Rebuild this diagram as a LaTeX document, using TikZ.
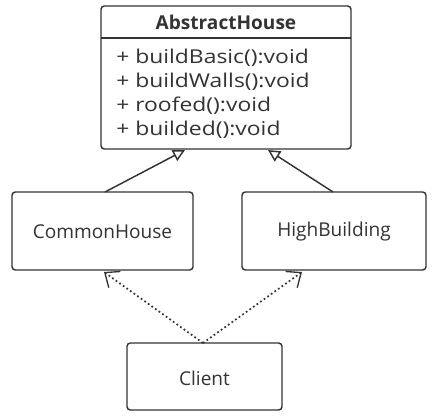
\documentclass[tikz,border=0pt]{standalone}
\usepackage{fontspec}
\setmainfont{Open Sans}
\newfontfamily\methfont[FakeStretch=1.2]{Open Sans}
\usetikzlibrary{arrows.meta}
\definecolor{ink}{HTML}{333333}
\begin{document}
\begin{tikzpicture}[x=0.75pt,y=-0.75pt,
  box/.style={draw=ink,line width=1.1pt,rounded corners=2.5pt},
  txt/.style={text=ink,font=\fontsize{14.3}{16}\selectfont,inner sep=0pt},
  meth/.style={text=ink,font=\methfont\fontsize{14.3}{16}\selectfont,inner sep=0pt,anchor=west},
  inherit/.style={draw=ink,line width=1.1pt,-{Triangle[open,length=9pt,width=9pt]}},
  dep/.style={draw=ink,line width=1.3pt,dotted,-{Straight Barb[length=9pt,width=15pt,line width=1pt]}}]
\useasboundingbox (0,0) rectangle (440,419);
\fill[white] (0,0) rectangle (440,419);
% AbstractHouse
\draw[box] (101,6) rectangle (351,149);
\coordinate (ahL) at (101,38);
\coordinate (ahR) at (351,38);
\draw[draw=ink,line width=1.1pt] (ahL) -- (ahR);
\node[txt,font=\fontsize{14.3}{16}\selectfont\bfseries] (ahT) at (226,22) {AbstractHouse};
\node[meth] (m1) at (116,58) {+ buildBasic():void};
\node[meth] (m2) at (116,82) {+ buildWalls():void};
\node[meth] (m3) at (116,106) {+ roofed():void};
\node[meth] (m4) at (116,130) {+ builded():void};
\node[minimum width=250*0.75pt,minimum height=143*0.75pt,inner sep=0pt] (abs) at (226,77.5) {};
% Common / High
\node[box,minimum width=181*0.75pt,minimum height=78*0.75pt,inner sep=0pt] (ch) at (102.5,231) {};
\node[txt] (chT) at (102.5,232) {CommonHouse};
\node[box,minimum width=184*0.75pt,minimum height=78*0.75pt,inner sep=0pt] (hb) at (334,231) {};
\node[txt] (hbT) at (334,232) {HighBuilding};
% Client
\node[box,minimum width=155*0.75pt,minimum height=67*0.75pt,inner sep=0pt] (cl) at (204.5,376.5) {};
\node[txt] (clT) at (204.5,378) {Client};
% connectors
\coordinate (chTop) at (105,192);
\coordinate (absB1) at (185,150);
\coordinate (hbTop) at (333,192);
\coordinate (absB2) at (268,150);
\draw[inherit] (chTop) -- (absB1);
\draw[inherit] (hbTop) -- (absB2);
\coordinate (clTop) at (203,343);
\coordinate (chBot) at (104,272);
\coordinate (hbBot) at (302,272);
\draw[dep] (clTop) -- (chBot);
\draw[dep] (clTop) -- (hbBot);
\end{tikzpicture}
\end{document}
